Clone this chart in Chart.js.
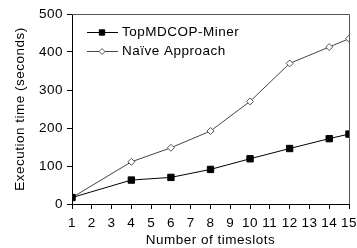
<!DOCTYPE html>
<html>
<head>
<meta charset="utf-8">
<script src="https://cdn.jsdelivr.net/npm/chart.js@4"></script>
<style>
  html, body { margin: 0; padding: 0; background: #fff; }
  #wrap { width: 357px; height: 248px; }
</style>
</head>
<body>
<div id="wrap"><canvas id="chart" width="357" height="248"></canvas></div>
<script>
const timeslots = [1, 4, 6, 8, 10, 12, 14, 15];
const topMdcop = [17, 63, 70, 91, 119, 146, 172, 184];
const naive = [17, 111, 148, 192, 270, 370, 413, 435];
const seriesNames = ['TopMDCOP-Miner', 'Naïve Approach'];

const font = "Arial, 'Liberation Sans', sans-serif";
const fontSize = 13.5;
const spacing = '0.5px';

// wide letter spacing like the original bitmap text
const textSpacing = {
    id: 'textSpacing',
    beforeInit(chart) { chart.ctx.letterSpacing = spacing; },
    beforeUpdate(chart) { chart.ctx.letterSpacing = spacing; },
    beforeDraw(chart) { chart.ctx.letterSpacing = spacing; }
};

// legend drawn inside the plot, like the original figure
const innerLegend = {
    id: 'innerLegend',
    afterDraw(chart) {
        const ctx = chart.ctx;
        const area = chart.chartArea;
        const rows = [32.5, 51.5];
        const sizes = [3.8, 3];
        chart.data.datasets.forEach((ds, i) => {
            const y = rows[i];
            const x0 = area.left + 15;
            ctx.save();
            ctx.strokeStyle = ds.borderColor;
            ctx.lineWidth = 1;
            ctx.beginPath();
            ctx.moveTo(x0, y);
            ctx.lineTo(x0 + 31, y);
            ctx.stroke();
            ctx.fillStyle = ds.pointBackgroundColor;
            ctx.strokeStyle = ds.pointBorderColor;
            Chart.helpers.drawPoint(ctx, {
                pointStyle: ds.pointStyle,
                radius: sizes[i],
                borderWidth: 1
            }, x0 + 15, y);
            ctx.restore();
            ctx.save();
            ctx.letterSpacing = spacing;
            ctx.fillStyle = '#000';
            ctx.font = fontSize + 'px ' + font;
            ctx.textBaseline = 'middle';
            ctx.fillText(ds.label, x0 + 35, y);
            ctx.restore();
        });
    }
};

// top and right frame of the plot box
const frame = {
    id: 'frame',
    beforeDatasetsDraw(chart) {
        const ctx = chart.ctx;
        const a = chart.chartArea;
        ctx.save();
        ctx.strokeStyle = '#555';
        ctx.lineWidth = 1;
        ctx.beginPath();
        ctx.moveTo(a.left, a.top + 0.5);
        ctx.lineTo(a.right + 0.5, a.top + 0.5);
        ctx.lineTo(a.right + 0.5, a.bottom);
        ctx.stroke();
        ctx.restore();
    }
};

function points(values) {
    return timeslots.map((t, i) => ({ x: t, y: values[i] }));
}

new Chart(document.getElementById('chart'), {
    type: 'line',
    data: {
        datasets: [
            {
                label: seriesNames[0],
                data: points(topMdcop),
                borderColor: '#000',
                borderWidth: 1,
                pointStyle: 'rect',
                pointRadius: 4.5,
                pointBackgroundColor: '#000',
                pointBorderColor: '#000',
                pointBorderWidth: 1,
                tension: 0
            },
            {
                label: seriesNames[1],
                data: points(naive),
                borderColor: '#444',
                borderWidth: 1,
                pointStyle: 'rectRot',
                pointRadius: 3.5,
                pointBackgroundColor: '#fff',
                pointBorderColor: '#555',
                pointBorderWidth: 1,
                tension: 0
            }
        ]
    },
    options: {
        responsive: false,
        animation: false,
        layout: { padding: { top: 14, right: 0, left: 0, bottom: 0 } },
        plugins: {
            legend: { display: false },
            tooltip: { enabled: false }
        },
        scales: {
            x: {
                type: 'linear',
                min: 1,
                max: 15,
                ticks: {
                    stepSize: 1,
                    color: '#000',
                    font: { family: font, size: fontSize },
                    padding: 6,
                    maxRotation: 0,
                    autoSkip: false
                },
                grid: { drawOnChartArea: false, tickLength: 5, color: '#000' },
                border: { color: '#000' },
                title: {
                    display: true,
                    text: 'Number of timeslots',
                    color: '#000',
                    font: { family: font, size: fontSize },
                    padding: { top: 0, bottom: 0 }
                },
                afterFit(s) {
                    s.height = 44;
                    s.paddingRight = 8;
                    s.paddingLeft = 0;
                }
            },
            y: {
                min: 0,
                max: 500,
                ticks: {
                    stepSize: 100,
                    color: '#000',
                    font: { family: font, size: fontSize },
                    padding: 4
                },
                grid: { drawOnChartArea: false, tickLength: 5, color: '#000' },
                border: { color: '#000' },
                title: {
                    display: true,
                    text: 'Execution time (seconds)',
                    color: '#000',
                    font: { family: font, size: fontSize },
                    padding: { top: 12, bottom: 0 }
                },
                afterFit(s) { s.width = 72; }
            }
        }
    },
    plugins: [textSpacing, frame, innerLegend]
});
</script>
</body>
</html>
